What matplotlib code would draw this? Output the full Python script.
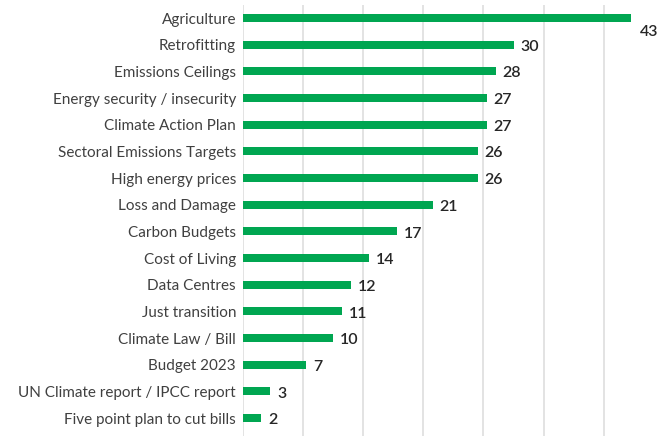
import matplotlib
matplotlib.use("Agg")
import matplotlib.pyplot as plt
import numpy as np

categories = ["Agriculture", "Retrofitting", "Emissions Ceilings",
              "Energy security / insecurity", "Climate Action Plan",
              "Sectoral Emissions Targets", "High energy prices",
              "Loss and Damage", "Carbon Budgets", "Cost of Living",
              "Data Centres", "Just transition", "Climate Law / Bill",
              "Budget 2023", "UN Climate report / IPCC report",
              "Five point plan to cut bills"]
values = [43, 30, 28, 27, 27, 26, 26, 21, 17, 14, 12, 11, 10, 7, 3, 2]

W, H = 662, 436
fig = plt.figure(figsize=(W / 100, H / 100), dpi=100)
left, right, top, bottom = 243, 662, 4.7, 436
ax = fig.add_axes([left / W, 1 - bottom / H, (right - left) / W, (bottom - top) / H])

y = np.arange(len(categories))
ax.barh(y, values, height=0.3, color="#00a651", zorder=3)

xmax = (right - left) / 9.03
ax.set_xlim(0, xmax)
ax.set_ylim(15.67, -0.5)
step = 60.1 / 9.03
ax.set_xticks(np.arange(0, xmax, step))
ax.set_xticklabels([])
ax.tick_params(axis="x", length=0)
ax.tick_params(axis="y", length=0, pad=5)
ax.grid(axis="x", color="#e3e3e3", linewidth=1.4, zorder=0)
for s in ax.spines.values():
    s.set_visible(False)

ax.set_yticks(y)
ax.set_yticklabels(categories, fontsize=11, color="#404040",
                   family="Lato", fontweight="normal")

for i, v in enumerate(values):
    if i == 0:
        ax.annotate(str(v), (v, i), xytext=(6, -10), textcoords="offset points",
                    ha="left", va="center", fontsize=11.5, color="#262626",
                    family="Lato", fontweight="semibold")
    else:
        ax.annotate(str(v), (v, i), xytext=(5, -1.5), textcoords="offset points",
                    ha="left", va="center", fontsize=11.5, color="#262626",
                    family="Lato", fontweight="semibold")

fig.savefig("out.png", dpi=100)
